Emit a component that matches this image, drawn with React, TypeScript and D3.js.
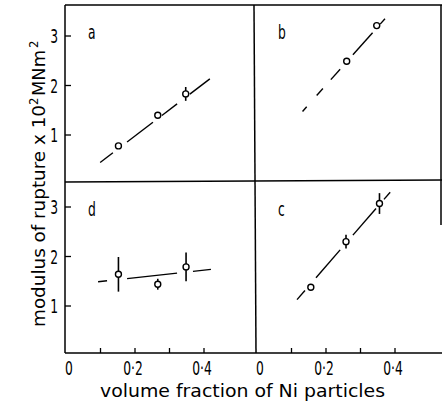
import React from 'react';
import * as d3 from 'd3';

const width = 443;
const height = 405;

// layout (pixels)
const frameLeft = 65;
const frameRight = 442;
const frameTop = 5;
const frameMidX = 255;
const frameMidY = 182;
const frameBottom = 353;
const colZero = [66, 257];
const rowZero = [184.5, 355.5];
const pxPerX = 345;
const pxPerY = 49.5;
const narrow = 0.72;

const fontFamily = "'Liberation Sans Narrow', 'DejaVu Sans Condensed', 'Roboto', sans-serif";

// data
const panelNames = ['a', 'b', 'c', 'd'];
const panelCol = [0, 1, 1, 0];
const panelRow = [0, 0, 1, 1];

// points: [volume fraction, modulus, error half-width]
const pointsA = [[0.152, 0.78, 0], [0.266, 1.40, 0], [0.347, 1.83, 0.14]];
const pointsB = [[0.26, 2.49, 0], [0.347, 3.21, 0]];
const pointsC = [[0.156, 1.38, 0], [0.258, 2.30, 0.14], [0.355, 3.07, 0.21]];
const pointsD = [[0.152, 1.64, 0.35], [0.266, 1.44, 0.11], [0.348, 1.79, 0.29]];

// fitted line pieces: [x1, y1, x2, y2]
const segmentsA = [
  [0.099, 0.445, 0.136, 0.641],
  [0.177, 0.859, 0.252, 1.257],
  [0.278, 1.395, 0.322, 1.629],
  [0.359, 1.826, 0.417, 2.134],
];
const segmentsB = [
  [0.132, 1.476, 0.144, 1.570],
  [0.173, 1.797, 0.191, 1.938],
  [0.214, 2.119, 0.241, 2.330],
  [0.278, 2.620, 0.335, 3.067],
  [0.357, 3.240, 0.371, 3.349],
];
const segmentsC = [
  [0.116, 1.128, 0.139, 1.313],
  [0.171, 1.570, 0.241, 2.133],
  [0.278, 2.431, 0.345, 2.969],
  [0.368, 3.154, 0.386, 3.299],
];
const segmentsD = [
  [0.093, 1.49, 0.119, 1.51],
  [0.177, 1.554, 0.322, 1.665],
  [0.368, 1.70, 0.42, 1.74],
];

const panelPoints = [pointsA, pointsB, pointsC, pointsD];
const panelSegments = [segmentsA, segmentsB, segmentsC, segmentsD];

const yTicks = [1, 2, 3];
const xTicks = [0.1, 0.2, 0.3, 0.4];
const xTickLabels = [[0, '0'], [0.2, '0·2'], [0.4, '0·4']];

const xTitle = 'volume fraction of Ni particles';

function makeX(col) {
  return d3.scaleLinear().domain([0, 0.55]).range([colZero[col], colZero[col] + 0.55 * pxPerX]);
}
function makeY(row) {
  return d3.scaleLinear().domain([0, 3.6]).range([rowZero[row], rowZero[row] - 3.6 * pxPerY]);
}

function Panel({ idx }) {
  const x = makeX(panelCol[idx]);
  const y = makeY(panelRow[idx]);
  const top = panelRow[idx] === 0 ? frameTop : frameMidY;
  const left = panelCol[idx] === 0 ? frameLeft : frameMidX;
  return (
    <g>
      <text transform={`translate(${left + 23},${top + 34}) scale(${narrow},1)`} fontSize={19}
        fontFamily={fontFamily}>{panelNames[idx]}</text>
      {panelSegments[idx].map((s, i) => (
        <line key={'s' + i} x1={x(s[0])} y1={y(s[1])} x2={x(s[2])} y2={y(s[3])}
          stroke="#000" strokeWidth={1.4} />
      ))}
      {panelPoints[idx].map((p, i) => (
        <g key={'p' + i}>
          {p[2] > 0 && (
            <line x1={x(p[0])} x2={x(p[0])} y1={y(p[1] - p[2])} y2={y(p[1] + p[2])}
              stroke="#000" strokeWidth={1.6} />
          )}
          <circle cx={x(p[0])} cy={y(p[1])} r={3} fill="#fff" stroke="#000" strokeWidth={1.4} />
        </g>
      ))}
    </g>
  );
}

export default function App() {
  const xLeft = makeX(0);
  const xRight = makeX(1);
  return (
    <svg width={width} height={height} style={{ display: 'block', position: 'absolute', left: 0, top: 0 }}>
      <rect width={width} height={height} fill="#fff" />
      {/* frame */}
      <g stroke="#000" strokeWidth={1.5} fill="none">
        <line x1={frameLeft} x2={frameLeft} y1={frameTop} y2={frameBottom} />
        <line x1={frameLeft} x2={frameRight} y1={frameTop} y2={frameTop} />
        <line x1={frameLeft} x2={frameRight} y1={frameBottom} y2={frameBottom} />
        <line x1={frameLeft} x2={frameRight} y1={frameMidY} y2={frameMidY - 2} />
        <line x1={frameMidX - 1} x2={frameMidX + 1} y1={frameTop} y2={frameBottom} />
        <line x1={frameRight - 1} x2={frameRight - 1} y1={frameTop} y2={225} />
      </g>
      {/* y ticks */}
      {[0, 1].map((row) => {
        const y = makeY(row);
        return yTicks.map((t) => (
          <g key={row + '-' + t}>
            <line x1={frameLeft} x2={frameLeft + 6} y1={y(t)} y2={y(t)} stroke="#000" strokeWidth={1.3} />
            <text transform={`translate(58,${y(t) + 7}) scale(${narrow},1)`} textAnchor="end" fontSize={19}
              fontFamily={fontFamily}>{t}</text>
          </g>
        ));
      })}
      {/* x ticks */}
      {[xLeft, xRight].map((x, c) => (
        <g key={'xt' + c}>
          {xTicks.map((t) => (
            <line key={t} x1={x(t)} x2={x(t)} y1={frameBottom} y2={frameBottom - 5} stroke="#000" strokeWidth={1.3} />
          ))}
          {xTickLabels.map(([v, s]) => (
            <text key={s} transform={`translate(${x(v) + (v === 0 ? 3 : -2)},375) scale(${narrow},1)`}
              textAnchor="middle" fontSize={19} fontFamily={fontFamily}>{s}</text>
          ))}
        </g>
      ))}
      {panelNames.map((_, i) => <Panel key={i} idx={i} />)}
      {/* axis titles */}
      <text x={100} y={397} fontSize={18} fontFamily={fontFamily} textLength={285}
        lengthAdjust="spacingAndGlyphs">{xTitle}</text>
      <g fontFamily={fontFamily} fontSize={18}>
        <text transform="translate(45,327) rotate(-90)" textLength={222} lengthAdjust="spacingAndGlyphs">
          modulus of rupture x 10
        </text>
        <text transform="translate(38,105) rotate(-90)" fontSize={13}>2</text>
        <text transform="translate(45,96) rotate(-90)" textLength={46} lengthAdjust="spacingAndGlyphs">MNm</text>
        <text transform="translate(38,48) rotate(-90)" fontSize={13}>2</text>
      </g>
    </svg>
  );
}
